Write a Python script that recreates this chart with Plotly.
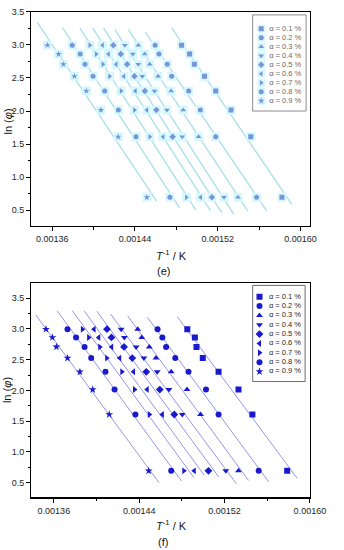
import numpy as np
import plotly.graph_objects as go

# ---------------- data ----------------
alphas = ["0.1", "0.2", "0.3", "0.4", "0.5", "0.6", "0.7", "0.8", "0.9"]
symbols = ["square", "circle", "triangle-up", "triangle-down", "diamond",
           "triangle-left", "triangle-right", "circle", "star"]
ln_phi = [2.996, 2.862, 2.708, 2.526, 2.303, 2.015, 1.609, 0.693]

# panel (e): T^-1 per alpha (rows follow ln_phi)
e_a01 = [0.0014850, 0.0014928, 0.0014974, 0.0015072, 0.0015180, 0.0015328, 0.0015519, 0.0015820]
e_a02 = [0.0014595, 0.0014632, 0.0014712, 0.0014755, 0.0014919, 0.0015032, 0.0015180, 0.0015575]
e_a03 = [0.0014432, 0.0014494, 0.0014542, 0.0014623, 0.0014749, 0.0014866, 0.0015014, 0.0015395]
e_a04 = [0.0014302, 0.0014379, 0.0014432, 0.0014471, 0.0014589, 0.0014709, 0.0014857, 0.0015260]
e_a05 = [0.0014191, 0.0014263, 0.0014324, 0.0014395, 0.0014496, 0.0014607, 0.0014764, 0.0015143]
e_a06 = [0.0014087, 0.0014145, 0.0014219, 0.0014293, 0.0014404, 0.0014515, 0.0014672, 0.0015035]
e_a07 = [0.0013963, 0.0014025, 0.0014090, 0.0014154, 0.0014265, 0.0014395, 0.0014543, 0.0014896]
e_a08 = [0.0013794, 0.0013871, 0.0013917, 0.0013995, 0.0014108, 0.0014240, 0.0014410, 0.0014737]
e_a09 = [0.0013554, 0.0013662, 0.0013708, 0.0013815, 0.0013930, 0.0014071, 0.0014238, 0.0014515]

# panel (f)
f_a01 = [0.0014851, 0.0014922, 0.0014937, 0.0014996, 0.0015144, 0.0015331, 0.0015461, 0.0015787]
f_a02 = [0.0014572, 0.0014617, 0.0014652, 0.0014738, 0.0014862, 0.0015026, 0.0015144, 0.0015520]
f_a03 = [0.0014386, 0.0014424, 0.0014495, 0.0014557, 0.0014700, 0.0014848, 0.0014975, 0.0015331]
f_a04 = [0.0014231, 0.0014261, 0.0014371, 0.0014444, 0.0014569, 0.0014679, 0.0014804, 0.0015212]
f_a05 = [0.0014098, 0.0014140, 0.0014258, 0.0014335, 0.0014466, 0.0014593, 0.0014729, 0.0015049]
f_a06 = [0.0013977, 0.0014021, 0.0014142, 0.0014217, 0.0014347, 0.0014475, 0.0014617, 0.0014916]
f_a07 = [0.0013867, 0.0013926, 0.0014030, 0.0014095, 0.0014237, 0.0014356, 0.0014495, 0.0014818]
f_a08 = [0.0013728, 0.0013808, 0.0013888, 0.0013950, 0.0014084, 0.0014169, 0.0014364, 0.0014700]
f_a09 = [0.0013526, 0.0013586, 0.0013624, 0.0013728, 0.0013844, 0.0013964, 0.0014119, 0.0014489]

x_ticks = [0.00136, 0.00144, 0.00152, 0.00160]
x_ticklabels = ["0.00136", "0.00144", "0.00152", "0.00160"]

e_series = [e_a01, e_a02, e_a03, e_a04, e_a05, e_a06, e_a07, e_a08, e_a09]
f_series = [f_a01, f_a02, f_a03, f_a04, f_a05, f_a06, f_a07, f_a08, f_a09]

# ---------------- figure ----------------
W, H = 344, 550
fig = go.Figure()

FONT = "Liberation Sans, Arial, sans-serif"
e_line = "rgb(170,225,235)"
e_marker = "rgb(120,150,215)"
e_halo = "rgb(214,248,252)"
f_line = "rgb(150,150,230)"
f_marker = "rgb(25,25,205)"


def fit_line(xs, ys):
    m, c = np.polyfit(xs, ys, 1)
    span = max(xs) - min(xs)
    xl = np.array([min(xs) - 0.1 * span, max(xs) + 0.1 * span])
    return xl, m * xl + c


for xs, sym in zip(e_series, symbols):
    xl, yl = fit_line(xs, ln_phi)
    fig.add_trace(go.Scatter(x=xl, y=yl, mode="lines", xaxis="x", yaxis="y",
                             line=dict(color=e_line, width=1.4), showlegend=False,
                             hoverinfo="skip"))
for xs, sym in zip(e_series, symbols):
    fig.add_trace(go.Scatter(x=xs, y=ln_phi, mode="markers", xaxis="x", yaxis="y",
                             marker=dict(symbol="square", size=9, color=e_halo),
                             showlegend=False, hoverinfo="skip"))
for xs, sym, a in zip(e_series, symbols, alphas):
    fig.add_trace(go.Scatter(x=xs, y=ln_phi, mode="markers", xaxis="x", yaxis="y",
                             marker=dict(symbol=sym, size=5, color=e_marker),
                             showlegend=False, name="α = %s %%" % a))

for xs, sym in zip(f_series, symbols):
    xl, yl = fit_line(xs, ln_phi)
    fig.add_trace(go.Scatter(x=xl, y=yl, mode="lines", xaxis="x2", yaxis="y2",
                             line=dict(color=f_line, width=1), showlegend=False,
                             hoverinfo="skip"))
for xs, sym, a in zip(f_series, symbols, alphas):
    fig.add_trace(go.Scatter(x=xs, y=ln_phi, mode="markers", xaxis="x2", yaxis="y2",
                             marker=dict(symbol=sym, size=6, color=f_marker),
                             showlegend=False, name="α = %s %%" % a))

# custom legends (small boxes)
idx = list(range(len(alphas)))
labels = ["α = %s %%" % a for a in alphas]
for i, sym in enumerate(symbols):
    fig.add_trace(go.Scatter(x=[0.16], y=[i], mode="markers", xaxis="x3", yaxis="y3",
                             marker=dict(symbol="square", size=8, color=e_halo),
                             showlegend=False, hoverinfo="skip"))
    fig.add_trace(go.Scatter(x=[0.16], y=[i], mode="markers", xaxis="x3", yaxis="y3",
                             marker=dict(symbol=sym, size=5, color=e_marker),
                             showlegend=False, hoverinfo="skip"))
    fig.add_trace(go.Scatter(x=[0.13], y=[i], mode="markers", xaxis="x4", yaxis="y4",
                             marker=dict(symbol=sym, size=6, color=f_marker),
                             showlegend=False, hoverinfo="skip"))
fig.add_trace(go.Scatter(x=[0.31] * len(idx), y=idx, mode="text", text=labels,
                         textposition="middle right", xaxis="x3", yaxis="y3",
                         textfont=dict(family=FONT, size=7.5, color="rgb(105,105,105)"),
                         showlegend=False, hoverinfo="skip"))
fig.add_trace(go.Scatter(x=[0.31] * len(idx), y=idx, mode="text", text=labels,
                         textposition="middle right", xaxis="x4", yaxis="y4",
                         textfont=dict(family=FONT, size=7.5, color="rgb(40,40,40)"),
                         showlegend=False, hoverinfo="skip"))


def px_x(p):
    return p / W


def px_y(p):
    return 1 - p / H


xdom = [px_x(33), px_x(325)]
axis_common = dict(showline=True, linecolor="black", linewidth=1.3, mirror=True,
                   ticks="outside", ticklen=4, tickwidth=1, tickcolor="black",
                   showgrid=False, zeroline=False,
                   tickfont=dict(family=FONT, size=9, color="rgb(30,30,30)"))

fig.update_layout(
    width=W, height=H, margin=dict(l=0, r=0, t=0, b=0),
    paper_bgcolor="white", plot_bgcolor="white", showlegend=False,
    xaxis=dict(domain=xdom, anchor="y", range=[0.00134, 0.001609],
               tickvals=x_ticks, ticktext=x_ticklabels,
               minor=dict(tickvals=[0.00140, 0.00148, 0.00156], ticklen=2.5,
                          ticks="outside", tickcolor="black"),
               **axis_common),
    yaxis=dict(domain=[px_y(223), px_y(7)], anchor="x", range=[0.26, 3.5],
               dtick=0.5, tickformat=".1f",
               minor=dict(dtick=0.25, ticklen=2.5, ticks="outside", tickcolor="black"),
               **axis_common),
    xaxis2=dict(domain=xdom, anchor="y2", range=[0.001339, 0.0016],
                tickvals=x_ticks, ticktext=x_ticklabels,
                minor=dict(tickvals=[0.00140, 0.00148, 0.00156], ticklen=2.5,
                           ticks="outside", tickcolor="black"),
                **axis_common),
    yaxis2=dict(domain=[px_y(497), px_y(281)], anchor="x2", range=[0.26, 3.74],
                dtick=0.5, tickformat=".1f",
                minor=dict(dtick=0.25, ticklen=2.5, ticks="outside", tickcolor="black"),
                **axis_common),
    xaxis3=dict(domain=[px_x(265), px_x(321)], anchor="y3", range=[0, 1], visible=False),
    yaxis3=dict(domain=[px_y(107), px_y(10)], anchor="x3", range=[9.13, -1.54], visible=False),
    xaxis4=dict(domain=[px_x(265), px_x(320)], anchor="y4", range=[0, 1], visible=False),
    yaxis4=dict(domain=[px_y(380), px_y(283)], anchor="x4", range=[9.07, -1.2], visible=False),
)

fig.add_shape(type="rect", xref="x3 domain", yref="y3 domain", x0=0, x1=1, y0=0, y1=1,
              line=dict(color="rgb(140,140,140)", width=1), fillcolor="rgba(0,0,0,0)")
fig.add_shape(type="rect", xref="x4 domain", yref="y4 domain", x0=0, x1=1, y0=0, y1=1,
              line=dict(color="rgb(110,110,110)", width=1), fillcolor="rgba(0,0,0,0)")

title_font = dict(family=FONT, size=11, color="rgb(20,20,20)")
ann = [
    (8, 118, "ln (<i>φ</i>)", -90),
    (8, 389, "ln (<i>φ</i>)", -90),
    (180, 252, "<i>T</i><sup>-1</sup> / K", 0),
    (180, 525, "<i>T</i><sup>-1</sup> / K", 0),
    (171, 268, "(e)", 0),
    (171, 542, "(f)", 0),
]
for x, y, t, rot in ann:
    fig.add_annotation(x=px_x(x), y=px_y(y), xref="paper", yref="paper", text=t,
                       showarrow=False, textangle=rot, font=title_font,
                       xanchor="center", yanchor="middle")

fig.write_html(
    "out.html",
    config={"displayModeBar": False, "staticPlot": True},
    post_script=("document.body.style.margin='0';document.body.style.padding='0';"
                 "document.body.style.overflow='hidden';"
                 "document.documentElement.style.overflow='hidden';"),
)
